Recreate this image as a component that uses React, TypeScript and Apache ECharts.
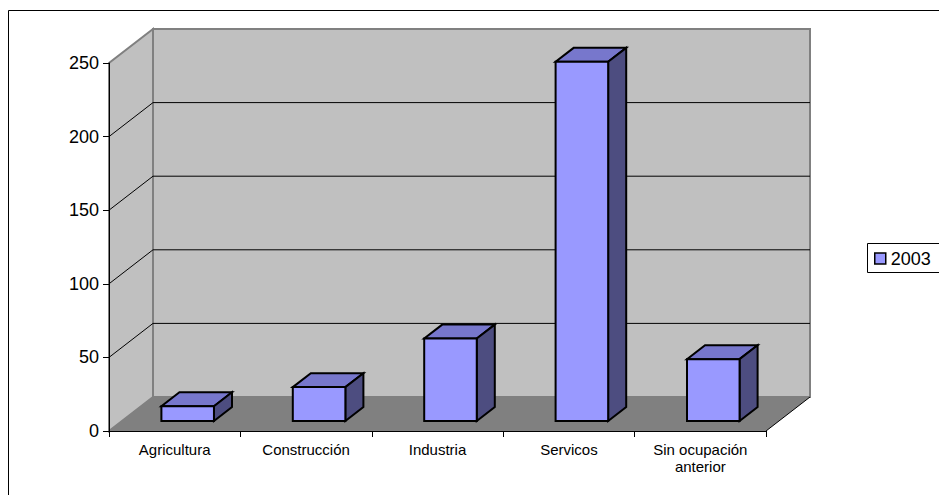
import React, { useEffect, useRef } from "react";
import * as echarts from "echarts";

const categories = ["Agricultura", "Construcción", "Industria", "Servicos", "Sin ocupación\nanterior"];
const values2003 = [10, 23, 56, 244, 42];
const seriesName = "2003";
const gridValues = [50, 100, 150, 200];

const DX = 44;
const DY = -34;
const BAR_FRONT = 0.295;
const BAR_BACK = 0.705;
const BAR_WIDTH_RATIO = 0.4;
const FONT = '"Liberation Sans", Arial, sans-serif';

export default function App() {
  const ref = useRef<HTMLDivElement>(null);
  useEffect(() => {
    document.body.style.margin = "0";
    const chart = echarts.init(ref.current!, null, { renderer: "svg" });
    const option: any = {
      animation: false,
      backgroundColor: "#ffffff",
      grid: { left: 109, right: 173, top: 63, bottom: 64, containLabel: false },
      xAxis: {
        type: "category",
        data: categories,
        z: 5,
        axisLine: { show: true, lineStyle: { color: "#000", width: 1 } },
        axisTick: { show: true, length: 6, alignWithLabel: false, lineStyle: { color: "#000" } },
        axisLabel: { interval: 0, margin: 10, color: "#000", fontSize: 15, fontFamily: FONT, lineHeight: 17 },
        splitLine: { show: false },
      },
      yAxis: {
        type: "value",
        min: 0,
        max: 250,
        interval: 50,
        z: 5,
        axisLine: { show: true, lineStyle: { color: "#000", width: 1 } },
        axisTick: { show: true, length: 6, lineStyle: { color: "#000" } },
        axisLabel: { margin: 10, color: "#000", fontSize: 18, fontFamily: FONT },
        splitLine: { show: false },
      },
      legend: {
        left: 867,
        top: 243,
        orient: "vertical",
        data: [
          {
            name: seriesName,
            icon: "rect",
            itemStyle: { color: "#9999ff", borderColor: "#000", borderWidth: 1.5 },
          },
        ],
        itemWidth: 11,
        itemHeight: 11,
        padding: [6, 0, 5, 7],
        borderWidth: 0,
        textStyle: { color: "#000", fontSize: 18, fontFamily: FONT, lineHeight: 19 },
      },
      graphic: [
        {
          type: "rect",
          silent: true,
          shape: { x: 8.5, y: 10.5, width: 1200, height: 1200 },
          style: { fill: "none", stroke: "#000", lineWidth: 1 },
          z: 100,
        },
        {
          type: "rect",
          silent: true,
          shape: { x: 867.5, y: 243.5, width: 200, height: 29 },
          style: { fill: "none", stroke: "#000", lineWidth: 1 },
          z: 100,
        },
      ],
      series: [
        {
          type: "custom",
          z: 1,
          silent: true,
          data: [[0, 0]],
          renderItem: (params: any, api: any) => {
            const cs = params.coordSys;
            const x0 = cs.x;
            const yt = cs.y;
            const xr = cs.x + cs.width;
            const yb = cs.y + cs.height;
            const children: any[] = [];
            children.push({
              type: "polygon",
              shape: { points: [[x0 + DX, yt + DY], [xr + DX, yt + DY], [xr + DX, yb + DY], [x0 + DX, yb + DY]] },
              style: { fill: "#c0c0c0", stroke: "#808080", lineWidth: 2 },
            });
            children.push({
              type: "polygon",
              shape: { points: [[x0, yb], [x0, yt], [x0 + DX, yt + DY], [x0 + DX, yb + DY]] },
              style: { fill: "#c0c0c0", stroke: "#808080", lineWidth: 2 },
            });
            children.push({
              type: "polygon",
              shape: { points: [[x0, yb], [x0 + DX, yb + DY], [xr + DX, yb + DY], [xr, yb]] },
              style: { fill: "#808080", stroke: "none" },
            });
            children.push({
              type: "line",
              shape: { x1: xr, y1: yb, x2: xr + DX, y2: yb + DY },
              style: { stroke: "#000", lineWidth: 1 },
            });
            gridValues.forEach((v) => {
              const y = api.coord([0, v])[1];
              children.push({
                type: "polyline",
                shape: { points: [[x0, y], [x0 + DX, y + DY], [xr + DX, y + DY]] },
                style: { stroke: "#000", lineWidth: 1, fill: "none" },
              });
            });
            return { type: "group", children };
          },
        },
        {
          name: seriesName,
          type: "custom",
          z: 10,
          itemStyle: { color: "#9999ff" },
          data: values2003.map((v, i) => [i, v]),
          renderItem: (params: any, api: any) => {
            const idx = api.value(0);
            const val = api.value(1);
            const top = api.coord([idx, val]);
            const base = api.coord([idx, 0]);
            const bw = api.size([1, 0])[0] * BAR_WIDTH_RATIO;
            const fx = DX * BAR_FRONT;
            const fy = DY * BAR_FRONT;
            const ddx = DX * (BAR_BACK - BAR_FRONT);
            const ddy = DY * (BAR_BACK - BAR_FRONT);
            const L = top[0] - bw / 2 + fx;
            const R = top[0] + bw / 2 + fx;
            const T = top[1] + fy;
            const B = base[1] + fy;
            const st = { stroke: "#000", lineWidth: 2, lineJoin: "miter" };
            return {
              type: "group",
              children: [
                {
                  type: "polygon",
                  shape: { points: [[L, T], [R, T], [R + ddx, T + ddy], [L + ddx, T + ddy]] },
                  style: { ...st, fill: "#7777cc" },
                },
                {
                  type: "polygon",
                  shape: { points: [[R, T], [R + ddx, T + ddy], [R + ddx, B + ddy], [R, B]] },
                  style: { ...st, fill: "#4d4d80" },
                },
                {
                  type: "polygon",
                  shape: { points: [[L, T], [R, T], [R, B], [L, B]] },
                  style: { ...st, fill: "#9999ff" },
                },
              ],
            };
          },
        },
      ],
    };
    chart.setOption(option);
    return () => chart.dispose();
  }, []);
  return (
    <div
      ref={ref}
      style={{ position: "fixed", left: 0, top: 0, width: 939, height: 495, background: "#fff" }}
    />
  );
}
